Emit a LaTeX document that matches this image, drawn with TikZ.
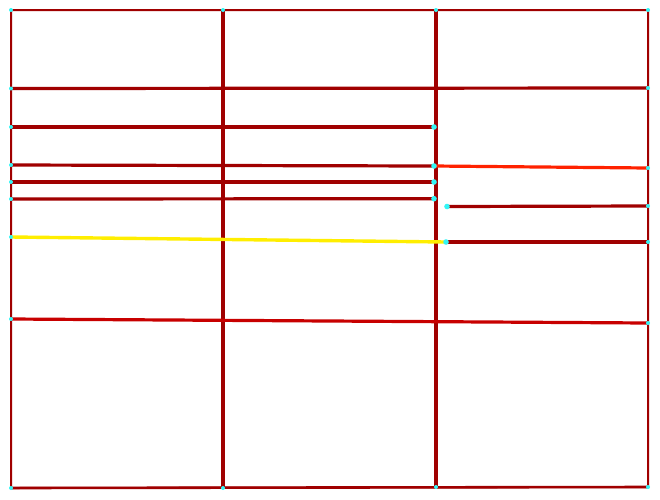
\documentclass[tikz,border=0pt]{standalone}
\begin{document}
\begin{tikzpicture}[x=1pt,y=-1pt,
  wall/.style={draw=darkred,line width=3.2pt},
  thinwall/.style={draw=darkred,line width=2pt},
  pt/.style={fill=dotcyan,draw=none},
]
\definecolor{darkred}{HTML}{A00000}
\definecolor{midred}{HTML}{C80000}
\definecolor{brightred}{HTML}{FF2200}
\definecolor{lineyellow}{HTML}{FFEE00}
\definecolor{dotcyan}{HTML}{33F5F5}
\useasboundingbox (0,0) rectangle (660,499);
% corners
\coordinate (tl) at (11,10);
\coordinate (tr) at (648,10);
\coordinate (bl) at (11,488);
\coordinate (br) at (648,487);
\coordinate (ta) at (223,10);
\coordinate (tb) at (436,10);
\coordinate (ba) at (223,488);
\coordinate (bb) at (436,487);
% horizontals
\coordinate (h1l) at (11,88.5);   \coordinate (h1r) at (648,88);
\coordinate (h2l) at (11,127);    \coordinate (h2r) at (434,127);
\coordinate (h3l) at (11,165);    \coordinate (h3r) at (434,166);
\coordinate (h3b) at (648,168);
\coordinate (h4l) at (11,182);    \coordinate (h4r) at (434,182);
\coordinate (h5l) at (11,199);    \coordinate (h5r) at (434,198.7);
\coordinate (h6l) at (447,206.5); \coordinate (h6r) at (648,206);
\coordinate (yl) at (11,237);     \coordinate (yr) at (446,242);
\coordinate (h7r) at (648,242);
\coordinate (h8l) at (11,319);    \coordinate (h8r) at (648,323);
% outer border
\draw[thinwall] (tl) -- (tr) -- (br) -- (bl) -- cycle;
\draw[wall,line width=2.6pt] (bl) -- (br);
% vertical walls
\draw[wall] (ta) -- (ba);
\draw[wall] (tb) -- (bb);
% horizontal walls
\draw[wall] (h1l) -- (h1r);
\draw[wall] (h2l) -- (h2r);
\draw[wall] (h3l) -- (h3r);
\draw[draw=brightred,line width=3.2pt] (h3r) -- (h3b);
\draw[wall] (h4l) -- (h4r);
\draw[wall] (h5l) -- (h5r);
\draw[wall] (h6l) -- (h6r);
\draw[draw=lineyellow,line width=3.4pt] (yl) -- (yr);
\draw[wall] (yr) -- (h7r);
\draw[wall,draw=midred] (h8l) -- (h8r);
% points
\foreach \p in {tl,tr,bl,br,ta,tb,ba,bb,h1l,h1r,h2l,h4l,h5l,h8l,h3l,yl,h3b,h6r,h7r,h8r}
  \fill[pt] (\p) circle (2);
\foreach \p in {h2r,h3r,h4r,h5r,h6l,yr}
  \fill[pt] (\p) circle (2.8);
\end{tikzpicture}
\end{document}
